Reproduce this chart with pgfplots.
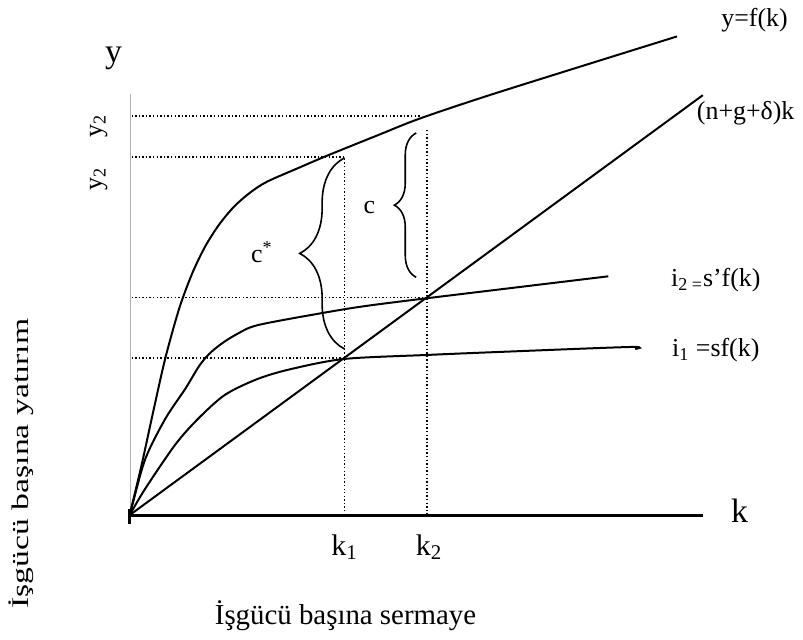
\documentclass[border=0pt]{standalone}
\usepackage{fontspec}
\setmainfont{Liberation Serif}
\usepackage{pgfplots}
\pgfplotsset{compat=1.18}
\usetikzlibrary{decorations.pathreplacing}
\begin{document}
\fontsize{13}{15}\selectfont
\begin{tikzpicture}
\begin{axis}[width=401.5pt,height=317.5pt,scale only axis,
  xmin=-129,xmax=674,ymin=-121,ymax=514,hide axis,clip=false]
\path (rel axis cs:0,0) rectangle (rel axis cs:1,1);
% axes
\addplot[gray!60,line width=0.5pt] coordinates {(1,0) (1,423)};
\addplot[black,line width=1.5pt] coordinates {(0,0) (576,0)};
\addplot[black,line width=1.5pt] coordinates {(0,-9) (0,6)};
% dotted guides
\addplot[black,line width=0.7pt,dash pattern=on 0.7pt off 1.1pt] coordinates {(2,401) (293,401)};
\addplot[black,line width=0.7pt,dash pattern=on 0.7pt off 1.1pt] coordinates {(2,360) (216,360) (216,0)};
\addplot[black,line width=0.7pt,dash pattern=on 0.7pt off 1.1pt] coordinates {(2,219) (299,219)};
\addplot[black,line width=0.7pt,dash pattern=on 0.7pt off 1.1pt] coordinates {(2,158) (216,158)};
\addplot[black,line width=0.7pt,dash pattern=on 0.7pt off 1.1pt] coordinates {(299,387) (299,0)};
% (n+g+delta)k
\addplot[black,line width=1pt] coordinates {(0,0) (576,422)};
% y = f(k)
\addplot[black,line width=1pt,smooth] coordinates {(0,0) (12,50) (24,105) (36,158) (50,208) (63,243) (76,270) (90,292) (105,310) (121,324) (138,335) (170,349) (198,361) (250,382) (293,399) (371,425) (550,481)};
% i2 = s'f(k)
\addplot[black,line width=1pt,smooth] coordinates {(0,0) (3,11) (16,57) (36,97) (56,127) (70,150) (80,162) (92,172) (108,182) (129,191) (193,203) (236,210) (299,218) (481,240)};
% i1 = sf(k)
\addplot[black,line width=1pt,smooth] coordinates {(0,0) (16,27) (46,71) (69,97) (96,121) (129,137) (163,147) (216,157) (299,161) (371,164) (503,169) (508,167)};
% braces
\draw[decorate,decoration={brace,amplitude=22.5pt},line width=0.8pt] (axis cs:216,167) -- (axis cs:216,359);
\draw[decorate,decoration={brace,amplitude=11pt},line width=0.8pt] (axis cs:288,239) -- (axis cs:288,384);
% labels
\node at (axis cs:133,264) {c\textsuperscript{*}};
\node at (axis cs:241,309) {c};
\node at (axis cs:628,497) {y=f(k)};
\node at (axis cs:619,404) {(n+g+δ)k};
\node at (axis cs:589,236) {i\textsubscript{2 =}s’f(k)};
\node at (axis cs:589,166) {i\textsubscript{1} =sf(k)};
\node[font=\fontsize{17}{19}\selectfont] at (axis cs:-16,459) {y};
\node[font=\fontsize{17}{19}\selectfont] at (axis cs:613,4) {k};
\node[font=\fontsize{15}{17}\selectfont] at (axis cs:216,-32) {k\textsubscript{1}};
\node[font=\fontsize{15}{17}\selectfont] at (axis cs:301,-32) {k\textsubscript{2}};
\node[rotate=90] at (axis cs:-31,391) {y\textsubscript{2}};
\node[rotate=90] at (axis cs:-31,338) {y\textsubscript{2}};
\node[font=\fontsize{14.5}{17}\selectfont] at (axis cs:217,-101) {İşgücü başına sermaye};
\node[rotate=90,font=\fontsize{12}{14}\selectfont] at (axis cs:-109,52) {\scalebox{1.41}[1]{İşgücü başına yatırım}};
\end{axis}
\end{tikzpicture}
\end{document}
